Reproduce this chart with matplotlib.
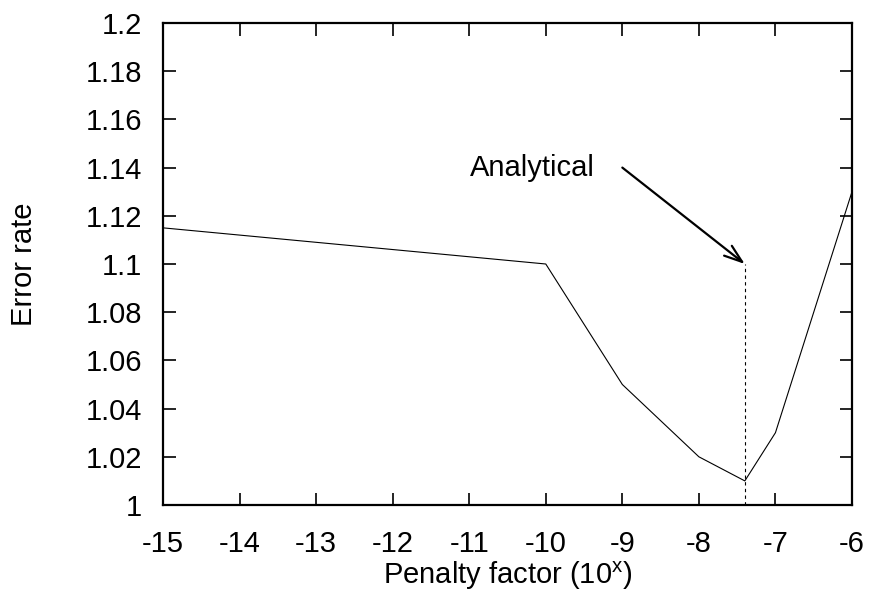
import matplotlib
matplotlib.use("Agg")
import matplotlib.pyplot as plt

plt.rcParams['font.family'] = ['Liberation Sans', 'DejaVu Sans']
plt.rcParams['axes.unicode_minus'] = False

# penalty factor exponent vs error rate
penalty_exp = [-15, -10, -9, -8, -7.4, -7, -6]
error_rate = [1.115, 1.10, 1.05, 1.02, 1.01, 1.03, 1.13]

analytical_x = -7.4
analytical_top = 1.10
label_text = "Analytical"
label_pos = (-9.36, 1.14)
arrow_start = (-9.0, 1.14)

x_ticks = list(range(-15, -5))
y_ticks = [1.0, 1.02, 1.04, 1.06, 1.08, 1.1, 1.12, 1.14, 1.16, 1.18, 1.2]
y_tick_labels = ["1", "1.02", "1.04", "1.06", "1.08", "1.1", "1.12", "1.14", "1.16", "1.18", "1.2"]

fs = 21

fig = plt.figure(figsize=(8.7, 5.98), dpi=100)
ax = fig.add_axes([163 / 870, 1 - 505 / 598, (852 - 163) / 870, (505 - 23) / 598])

ax.plot(penalty_exp, error_rate, color="black", linewidth=0.8)
ax.plot([analytical_x, analytical_x], [1.0, analytical_top], color="black",
        linewidth=0.8, linestyle=(0, (3, 3)))

ax.annotate("", xy=(analytical_x, analytical_top), xytext=arrow_start,
            arrowprops=dict(arrowstyle="->,head_length=1.3,head_width=0.45",
                            color="black", linewidth=1.6, shrinkA=0, shrinkB=0))
ax.text(label_pos[0], label_pos[1], label_text, ha="right", va="center", fontsize=fs)

ax.set_xlim(-15, -6)
ax.set_ylim(1.0, 1.2)
ax.set_xticks(x_ticks)
ax.set_yticks(y_ticks)
ax.set_yticklabels(y_tick_labels)
ax.tick_params(direction="in", length=9, width=1.2, top=True, right=True,
               labelsize=fs)
ax.tick_params(axis="y", pad=15)
ax.tick_params(axis="x", pad=18)
for s in ax.spines.values():
    s.set_linewidth(1.6)

ax.set_xlabel("Penalty factor (10$^{\\mathregular{x}}$)", fontsize=fs, labelpad=1)
ax.set_ylabel("Error rate", fontsize=fs, labelpad=34)

fig.savefig("out.png", dpi=100)
